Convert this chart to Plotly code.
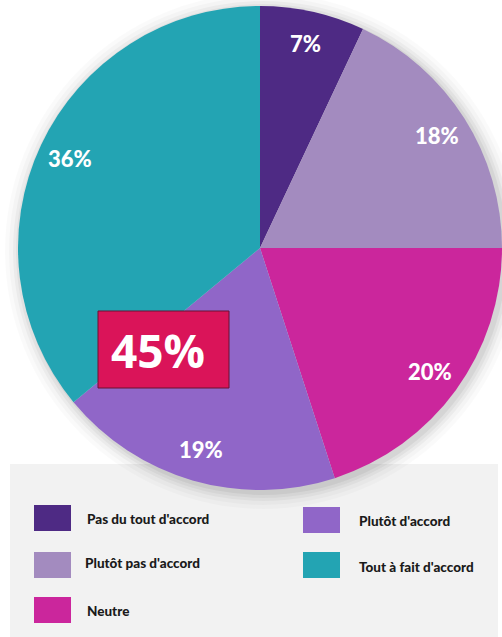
import math
import plotly.graph_objects as go

W, H = 502, 637

# ---- data ----
categories = ["Pas du tout d'accord", "Plutôt pas d'accord", "Neutre", "Plutôt d'accord", "Tout à fait d'accord"]
values = [7, 18, 20, 19, 36]
colors = ["#4E2A84", "#A38BBF", "#CB269C", "#9066C8", "#23A4B3"]
highlight_label = "45%"

# ---- geometry (px) ----
CX, CY, R = 260, 248, 242
LABEL_R = 0.868


def px(x):
    return x / W


def py(y):
    return 1 - y / H


fig = go.Figure()
fig.add_trace(go.Pie(
    labels=categories,
    values=values,
    marker=dict(colors=colors, line=dict(width=0)),
    sort=False,
    direction="clockwise",
    rotation=0,
    textinfo="none",
    hoverinfo="label+percent",
    showlegend=False,
    domain=dict(x=[px(CX - R), px(CX + R)], y=[py(CY + R), py(CY - R)]),
))

shapes = []
# legend panel
shapes.append(dict(type="rect", xref="paper", yref="paper",
                   x0=px(10), x1=px(498), y0=py(637), y1=py(464),
                   fillcolor="#F2F2F2", line=dict(width=0), layer="below"))
# soft shadow around the pie
for dr, op in [(16, 0.02), (12, 0.025), (8, 0.035), (5, 0.04), (2, 0.05)]:
    ox, oy = 3, 3
    shapes.append(dict(type="circle", xref="paper", yref="paper",
                       x0=px(CX + ox - R - dr), x1=px(CX + ox + R + dr),
                       y0=py(CY + oy + R + dr), y1=py(CY + oy - R - dr),
                       fillcolor=f"rgba(0,0,0,{op})", line=dict(width=0), layer="below"))

annotations = []
# slice labels placed along each slice's mid-angle
total = sum(values)
cum = 0
for v in values:
    mid = (cum + v / 2) / total * 2 * math.pi
    cum += v
    lx = CX + LABEL_R * R * math.sin(mid)
    ly = CY - LABEL_R * R * math.cos(mid)
    annotations.append(dict(
        x=px(lx), y=py(ly), xref="paper", yref="paper",
        text=f"{round(v / total * 100)}%", showarrow=False,
        font=dict(family="Lato", size=22, color="white", weight=900),
        xanchor="center", yanchor="middle"))

# highlight box
shapes.append(dict(type="rect", xref="paper", yref="paper",
                   x0=px(98), x1=px(229), y0=py(388), y1=py(311),
                   fillcolor="#DA1459", line=dict(color="#6A1033", width=1)))
annotations.append(dict(
    x=px(158), y=py(350), xref="paper", yref="paper",
    text=highlight_label, showarrow=False,
    font=dict(family="Open Sans", size=46, color="white", weight=700),
    xanchor="center", yanchor="middle", align="center"))

# custom legend
leg_pos = [(34, 505, 85, 519), (34, 552, 83, 563), (34, 597, 85, 611),
           (303, 507, 357, 521), (303, 552, 357, 567)]
for (sx, sy, tx, ty), name, col in zip(leg_pos, categories, colors):
    shapes.append(dict(type="rect", xref="paper", yref="paper",
                       x0=px(sx), x1=px(sx + 37), y0=py(sy + 26), y1=py(sy),
                       fillcolor=col, line=dict(width=0)))
    annotations.append(dict(
        x=px(tx), y=py(ty), xref="paper", yref="paper", text=name,
        showarrow=False, xanchor="left", yanchor="middle",
        font=dict(family="Lato", size=13.5, color="#1A1A1A", weight=900)))

fig.update_layout(
    width=W, height=H,
    margin=dict(l=0, r=0, t=0, b=0),
    paper_bgcolor="white", plot_bgcolor="white",
    shapes=shapes, annotations=annotations,
    showlegend=False,
)

fig.write_html("out.html", config={"displayModeBar": False},
               post_script="document.body.style.margin='0';document.body.style.overflow='hidden';")
